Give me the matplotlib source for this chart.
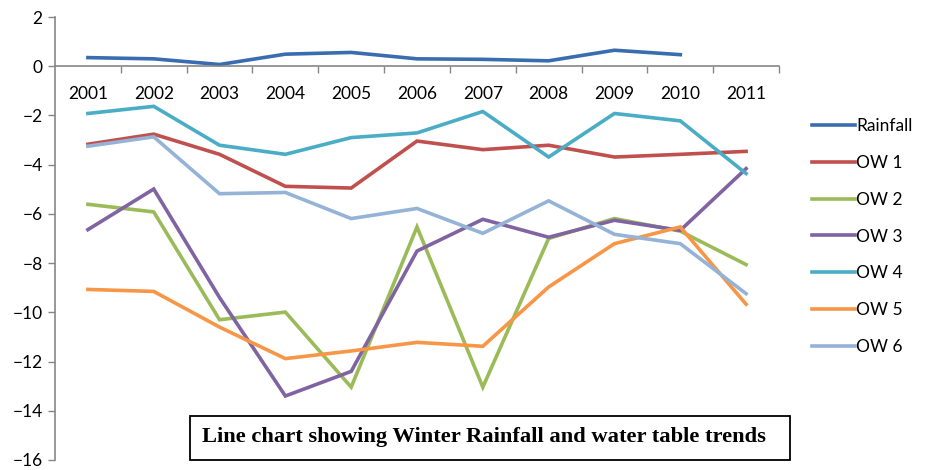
import matplotlib
matplotlib.use("Agg")
import matplotlib.pyplot as plt
from matplotlib.patches import Rectangle

years = ["2001", "2002", "2003", "2004", "2005", "2006",
         "2007", "2008", "2009", "2010", "2011"]

rainfall = [0.35, 0.30, 0.07, 0.49, 0.56, 0.30, 0.28, 0.22, 0.65, 0.47, None]
ow1 = [-3.17, -2.76, -3.58, -4.88, -4.95, -3.04, -3.39, -3.21, -3.69, -3.58, -3.46]
ow2 = [-5.61, -5.92, -10.30, -9.99, -13.04, -6.53, -13.04, -7.00, -6.19, -6.70, -8.06]
ow3 = [-6.64, -4.99, -9.40, -13.40, -12.40, -7.51, -6.22, -6.95, -6.26, -6.67, -4.16]
ow4 = [-1.92, -1.63, -3.21, -3.58, -2.90, -2.71, -1.84, -3.69, -1.92, -2.22, -4.36]
ow5 = [-9.07, -9.15, -10.60, -11.88, -11.57, -11.22, -11.38, -8.97, -7.21, -6.53, -9.67]
ow6 = [-3.25, -2.87, -5.18, -5.13, -6.19, -5.78, -6.79, -5.47, -6.83, -7.21, -9.24]

series = [
    ("Rainfall", rainfall, "#3A6DB0"),
    ("OW 1", ow1, "#C0504D"),
    ("OW 2", ow2, "#9BBB59"),
    ("OW 3", ow3, "#8064A2"),
    ("OW 4", ow4, "#4BACC6"),
    ("OW 5", ow5, "#F79646"),
    ("OW 6", ow6, "#95B3D7"),
]

plt.rcParams["font.family"] = ["Lato", "DejaVu Sans"]

fig = plt.figure(figsize=(9.35, 4.7), dpi=100)
ax = fig.add_axes([55 / 935, 1 - 460 / 470, 724 / 935, 443 / 470])

x = list(range(1, len(years) + 1))
for name, vals, col in series:
    xs = [xi for xi, v in zip(x, vals) if v is not None]
    ys = [v for v in vals if v is not None]
    ax.plot(xs, ys, color=col, lw=2.6, label=name, solid_joinstyle="miter")

ax.set_xlim(0.5, len(years) + 0.5)
ax.set_ylim(-16, 2)
ax.set_yticks(range(-16, 3, 2))
ax.tick_params(axis="y", direction="out", length=5, width=1, color="#868686",
               labelsize=12.5, pad=4)

# category axis crosses at zero
ax.spines["bottom"].set_position(("data", 0))
ax.spines["top"].set_visible(False)
ax.spines["right"].set_visible(False)
for s in ("left", "bottom"):
    ax.spines[s].set_color("#868686")
    ax.spines[s].set_linewidth(1.2)

ax.set_xticks(x)
ax.set_xticklabels(years)
ax.set_xticks([i + 0.5 for i in x], minor=True)
ax.tick_params(axis="x", which="major", length=0, labelsize=12.5, pad=14)
ax.tick_params(axis="x", which="minor", direction="out", length=5, width=1,
               color="#868686")

leg = ax.legend(loc="upper left", bbox_to_anchor=(812 / 935, 1 - 118 / 470),
                bbox_transform=fig.transFigure, frameon=False, fontsize=12.5,
                handlelength=2.5, handletextpad=0.05, labelspacing=1.2,
                borderaxespad=0, borderpad=0)

# caption box
fig.patches.append(Rectangle((190 / 935, 1 - 460 / 470), 600 / 935, 44 / 470,
                             transform=fig.transFigure, fill=True,
                             facecolor="white", edgecolor="black", lw=1.3,
                             zorder=5))
fig.text(484 / 935, 1 - 437 / 470,
         "Line chart showing Winter Rainfall and water table trends",
         ha="center", va="center", fontsize=16.2, fontweight="bold",
         family="Liberation Serif", zorder=6)

fig.savefig("out.png", dpi=100)
